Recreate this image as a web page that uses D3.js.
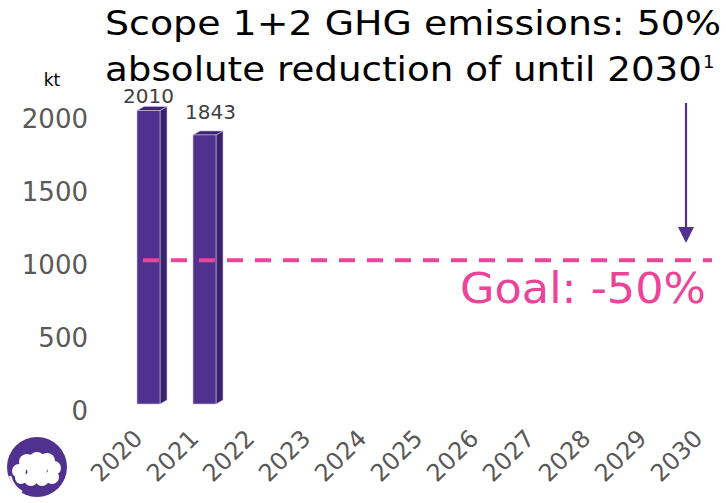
<!DOCTYPE html>
<html><head><meta charset="utf-8">
<script src="https://cdn.jsdelivr.net/npm/d3@7"></script>
<style>body{margin:0;background:#fff}svg{display:block}</style>
</head><body><svg id="c" width="726" height="503"></svg>
<script>
const years = ["2020","2021","2022","2023","2024","2025","2026","2027","2028","2029","2030"];
const barYears = ["2020","2021"];
const emissions = [2010, 1843];
const yTicks = [0, 500, 1000, 1500, 2000];
const goalValue = 1005;
const titleLines = ["Scope 1+2 GHG emissions: 50%", "absolute reduction of until 2030"];
const goalLabel = "Goal: -50%";
const unitLabel = "kt";

const svg = d3.select("#c");
const font = "'DejaVu Sans', Verdana, sans-serif";
const x = d3.scalePoint().domain(years).range([148.5, 708.5]);
const y = d3.scaleLinear().domain([0, 2000]).range([404, 112]);
const bw = 23, dx = 7, dy = 4;

// y axis labels
const yAxis = d3.axisLeft(y).tickValues(yTicks).tickFormat(d3.format("d")).tickSize(0).tickPadding(0);
const gy = svg.append("g").attr("transform", "translate(88,6)").call(yAxis);
gy.select(".domain").remove();
gy.selectAll("text").attr("font-family", font).attr("font-size", 26).attr("fill", "#595959").attr("dy", "0.35em");

// x axis labels
const xAxis = d3.axisBottom(x).tickSize(0).tickPadding(0);
const gx = svg.append("g").attr("transform", "translate(0,440)").call(xAxis);
gx.select(".domain").remove();
gx.selectAll("text").attr("font-family", font).attr("font-size", 24).attr("fill", "#595959")
  .attr("text-anchor", "end").attr("y", 0).attr("dy", 0)
  .attr("transform", "translate(-5,0) rotate(-45)");

// bars
const bars = svg.append("g");
barYears.forEach((yr, i) => {
  const v = emissions[i];
  const x0 = x(yr) - bw / 2, x1 = x0 + bw, top = y(v), bot = y(0);
  const g = bars.append("g");
  g.append("path").attr("d", `M${x1},${top}L${x1+dx},${top-dy}L${x1+dx},${bot-dy}L${x1},${bot}Z`)
    .attr("fill", "#38206a").attr("stroke", "#c9bfe0").attr("stroke-width", 0.6);
  g.append("path").attr("d", `M${x0},${top}L${x0+dx},${top-dy}L${x1+dx},${top-dy}L${x1},${top}Z`)
    .attr("fill", "#3e2475").attr("stroke", "#c9bfe0").attr("stroke-width", 0.6);
  g.append("rect").attr("x", x0).attr("y", top).attr("width", bw).attr("height", bot - top)
    .attr("fill", "#51318f").attr("stroke", "#c9bfe0").attr("stroke-width", 0.6);
  g.append("text").attr("x", x(yr) + (i === 0 ? 0 : 6)).attr("y", Math.max(top - 16, 103))
    .attr("text-anchor", "middle").attr("font-family", font).attr("font-size", 20).attr("fill", "#404040")
    .text(v);
});

// goal dashed line
svg.append("line").attr("x1", 143).attr("x2", 712).attr("y1", y(goalValue) + 3).attr("y2", y(goalValue) + 3)
  .attr("stroke", "#eb4499").attr("stroke-width", 4).attr("stroke-dasharray", "16,12");
svg.append("text").attr("x", 706).attr("y", 303).attr("text-anchor", "end")
  .attr("font-family", font).attr("font-size", 42).attr("fill", "#eb4499")
  .attr("textLength", 246).attr("lengthAdjust", "spacingAndGlyphs").text(goalLabel);

// arrow
svg.append("line").attr("x1", 686).attr("x2", 686).attr("y1", 103).attr("y2", 230)
  .attr("stroke", "#51318f").attr("stroke-width", 2.2);
svg.append("path").attr("d", "M678,227L694,227L686,243Z").attr("fill", "#51318f");

// title
svg.append("text").attr("x", 105).attr("y", 35).attr("font-family", font).attr("font-size", 34)
  .attr("fill", "#000").attr("textLength", 616).attr("lengthAdjust", "spacingAndGlyphs").text(titleLines[0]);
svg.append("text").attr("x", 105).attr("y", 81).attr("font-family", font).attr("font-size", 34)
  .attr("fill", "#000").attr("textLength", 597).attr("lengthAdjust", "spacingAndGlyphs").text(titleLines[1]);
svg.append("text").attr("x", 703).attr("y", 68).attr("font-family", font).attr("font-size", 18).attr("fill", "#000").text("1");

// unit
svg.append("text").attr("x", 52).attr("y", 86).attr("text-anchor", "middle").attr("font-family", font)
  .attr("font-size", 17).attr("fill", "#000").text(unitLabel);

// logo
const lg = svg.append("g");
lg.append("circle").attr("cx", 37).attr("cy", 467).attr("r", 30).attr("fill", "#51318f");
[[19,471,7],[27,462,8],[37,460,8],[47,461,8],[54,468,7],[52,477,7],[42,479,7],[31,479,7],[21,478,6],[37,470,10]]
  .forEach(c => lg.append("circle").attr("cx", c[0]).attr("cy", c[1]).attr("r", c[2]).attr("fill", "#fff"));
lg.append("path").attr("d", "M10,476Q13,487 22,492").attr("stroke", "#fff").attr("stroke-width", 2.5).attr("fill", "none");
</script></body></html>
